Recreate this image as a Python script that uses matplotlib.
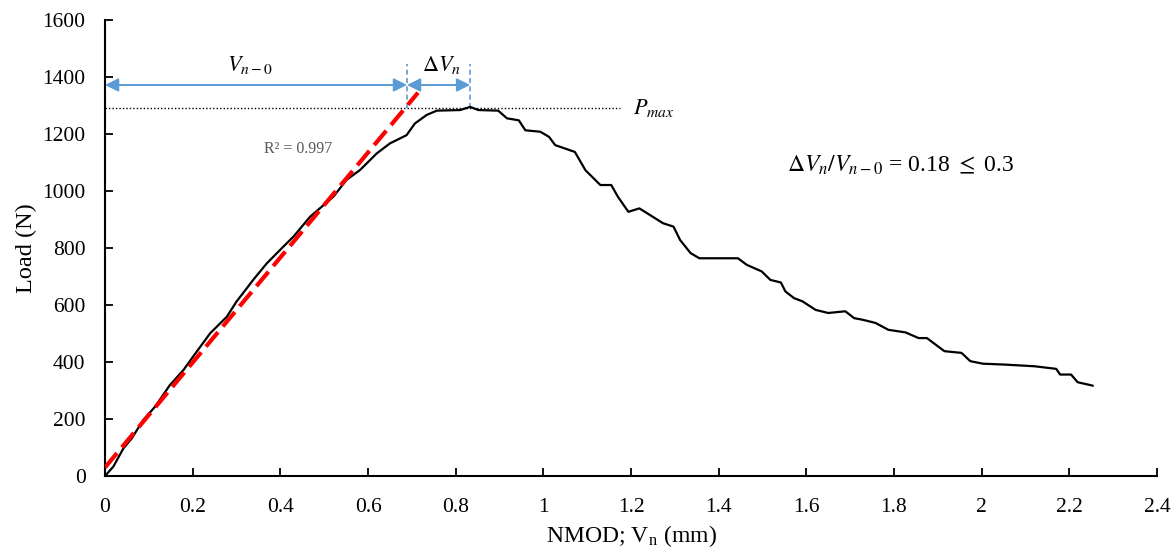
import matplotlib
matplotlib.use("Agg")
import matplotlib.pyplot as plt
from matplotlib.ticker import FuncFormatter

plt.rcParams['font.family'] = ['Liberation Serif', 'DejaVu Serif']
plt.rcParams['mathtext.fontset'] = 'stix'

# Load–NMOD curve
nmod = [0.000, 0.019, 0.042, 0.061, 0.087, 0.114, 0.148, 0.179, 0.209, 0.240,
        0.278, 0.300, 0.338, 0.369, 0.407, 0.430, 0.468, 0.521, 0.551, 0.582,
        0.620, 0.650, 0.688, 0.707, 0.734, 0.757, 0.810, 0.833, 0.852, 0.897,
        0.917, 0.944, 0.959, 0.993, 1.013, 1.027, 1.072, 1.096, 1.115, 1.130,
        1.155, 1.170, 1.194, 1.219, 1.243, 1.273, 1.297, 1.312, 1.336, 1.356,
        1.444, 1.464, 1.498, 1.518, 1.542, 1.552, 1.572, 1.591, 1.621, 1.650,
        1.689, 1.709, 1.729, 1.758, 1.787, 1.826, 1.856, 1.875, 1.895, 1.915,
        1.954, 1.974, 2.003, 2.052, 2.121, 2.170, 2.179, 2.204, 2.219, 2.248,
        2.253]
load = [0, 33, 97, 132, 196, 243, 319, 372, 436, 501,
        559, 612, 688, 746, 805, 840, 910, 980, 1039, 1074,
        1132, 1167, 1196, 1237, 1267, 1282, 1284, 1295, 1284, 1282,
        1255, 1248, 1213, 1208, 1190, 1161, 1137, 1073, 1044, 1021,
        1021, 980, 927, 939, 916, 887, 875, 828, 782, 764,
        764, 741, 718, 688, 679, 648, 624, 613, 583, 572,
        578, 554, 548, 537, 513, 504, 484, 484, 461, 438,
        432, 403, 394, 391, 385, 376, 356, 356, 329, 319,
        317]

# Linear fit line (R^2 = 0.997)
fit_x = [0.0, 0.714]
fit_y = [30, 1345]

# Annotation values
p_max = 1292
v_n0 = 0.689
v_peak = 0.833
arrow_y = 1372
pmax_line_end = 1.175

x_ticks = [0, 0.2, 0.4, 0.6, 0.8, 1.0, 1.2, 1.4, 1.6, 1.8, 2.0, 2.2, 2.4]
y_ticks = [0, 200, 400, 600, 800, 1000, 1200, 1400, 1600]

fig = plt.figure(figsize=(11.72, 5.51), dpi=100)
ax = fig.add_axes([0.0896, 0.1361, 0.8976, 0.8276])

ax.plot(nmod, load, color='black', lw=1.6, zorder=3)
ax.plot(fit_x, fit_y, color='#FF0000', lw=3, dashes=(4.5, 1.8), zorder=4)

# Pmax dotted line
ax.plot([0, pmax_line_end], [p_max, p_max], color='black', lw=1.0, ls=(0, (1, 1.5)), zorder=2)

blue = '#5B9BD5'
# vertical dashed markers
ax.plot([v_n0, v_n0], [p_max, 1445], color=blue, lw=1.2, ls=(0, (3, 2)))
ax.plot([v_peak, v_peak], [p_max, 1445], color=blue, lw=1.2, ls=(0, (3, 2)))
# double arrows
ax.annotate('', xy=(0.0, arrow_y), xytext=(v_n0, arrow_y),
            arrowprops=dict(arrowstyle='<|-|>', color=blue, lw=1.4,
                            mutation_scale=20, shrinkA=0, shrinkB=0))
ax.annotate('', xy=(v_n0, arrow_y), xytext=(v_peak, arrow_y),
            arrowprops=dict(arrowstyle='<|-|>', color=blue, lw=1.4,
                            mutation_scale=20, shrinkA=0, shrinkB=0))

ax.text(0.33, 1442, r'$V_{n-0}$', fontsize=16, ha='center', va='center')
ax.text(0.768, 1442, r'$\Delta V_n$', fontsize=16, ha='center', va='center')
ax.text(1.205, 1292, r'$P_{max}$', fontsize=16, ha='left', va='center')
ax.text(0.44, 1147, 'R² = 0.997', fontsize=11.5, color='#595959', ha='center', va='center')
ax.text(1.555, 1090, r'$\Delta V_n / V_{n-0}$ = 0.18 $\leq$ 0.3', fontsize=17, ha='left', va='center')

ax.set_xlim(0, 2.4)
ax.set_ylim(0, 1600)
ax.set_xticks(x_ticks)
ax.set_yticks(y_ticks)
ax.xaxis.set_major_formatter(FuncFormatter(lambda v, p: f'{v:g}'))
ax.tick_params(direction='in', length=6, width=1.3, labelsize=15.5)
ax.tick_params(axis='x', pad=16)
ax.tick_params(axis='y', pad=14)
for s in ['top', 'right']:
    ax.spines[s].set_visible(False)
for s in ['left', 'bottom']:
    ax.spines[s].set_linewidth(1.5)

ax.set_xlabel(r'NMOD; V$_\mathregular{n}$ (mm)', fontsize=17, labelpad=4)
ax.set_ylabel('Load (N)', fontsize=17.5, labelpad=4)

fig.savefig('out.png', dpi=100)
